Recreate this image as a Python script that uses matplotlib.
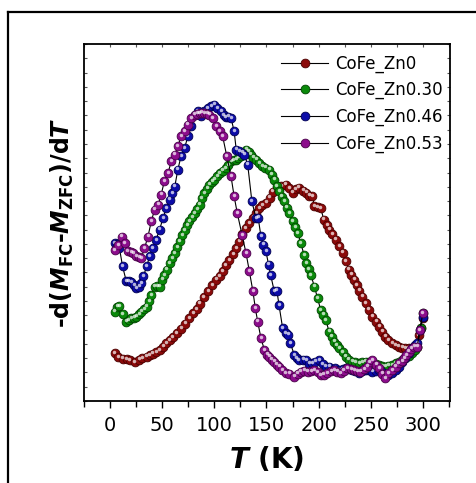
import matplotlib
matplotlib.use("Agg")
import matplotlib.pyplot as plt
import matplotlib.transforms as mtransforms
from matplotlib.lines import Line2D
from matplotlib.ticker import MultipleLocator, NullFormatter

plt.rcParams["font.family"] = "DejaVu Sans"
plt.rcParams["mathtext.fontset"] = "custom"
plt.rcParams["mathtext.rm"] = "DejaVu Sans:bold"
plt.rcParams["mathtext.it"] = "DejaVu Sans:bold:italic"
plt.rcParams["mathtext.bf"] = "DejaVu Sans:bold"

# ---- data: temperature (K) and -d(M_FC - M_ZFC)/dT (arb. units) ----
t_zn0 = [4.5, 7.7, 12, 16, 19, 23.6, 28, 31, 35, 38, 41, 44, 47.5, 51, 54, 57, 60, 64, 68, 72,
         76, 80, 83, 86, 90, 94, 98, 102, 105, 108, 111, 114.5, 118, 121, 124, 127, 130, 133.6,
         137, 140, 143, 146, 149.5, 153, 156, 160, 164, 168.6, 172, 175, 178, 181, 185, 188,
         191, 194, 196, 199, 202, 205, 208, 210, 213, 216.5, 220, 223, 226, 229, 231.5, 234,
         236.5, 239, 242, 245, 248, 251.5, 255, 258, 261, 264, 267, 270.7, 274, 277, 280, 283,
         286.5, 290, 292.5, 294.6, 296, 298, 300]
m_zn0 = [13.4, 12.2, 11.8, 11.7, 11.5, 10.8, 11.6, 12.0, 12.4, 12.9, 13.3, 13.6, 14.2, 15.2, 16.2,
         17.0, 17.9, 19.0, 20.3, 21.6, 23.2, 24.6, 25.8, 27.3, 29.0, 30.8, 32.4, 34.0, 35.0, 36.3,
         38.0, 39.5, 41.2, 42.8, 44.6, 46.8, 48.4, 49.8, 51.3, 52.6, 54.0, 54.8, 55.5, 57.0, 58.6,
         59.6, 60.2, 60.6, 59.6, 58.3, 59.3, 59.7, 58.9, 58.3, 57.5, 57.3, 54.6, 54.3, 54.0, 50.8,
         49.3, 48.0, 46.8, 45.2, 43.4, 41.5, 39.2, 36.8, 35.4, 34.0, 32.4, 30.9, 29.2, 27.4, 25.6,
         23.6, 22.2, 20.8, 19.4, 18.0, 17.1, 16.2, 15.7, 15.2, 14.9, 14.8, 14.8, 14.8, 15.0, 15.2,
         18.5, 20.5, 23.2]

t_zn30 = [4.5, 7, 9, 12, 15.6, 18, 20, 23, 25, 28, 30, 33, 35, 37.5, 39.5, 42.7, 45, 47.5, 50, 52,
          54.5, 57, 59.5, 62, 64.5, 66.6, 69, 71.4, 74, 76, 78.5, 81, 83.5, 85.8, 88, 90.5, 93,
          95.3, 98, 100, 102.5, 105, 108, 111, 113.5, 116, 118.5, 121, 123, 125.6, 128, 130.4,
          133, 135, 137.5, 140, 143, 146, 149, 152.7, 155, 157.5, 160, 162, 164.5, 167, 169.5, 172,
          175, 177.5, 180, 183, 186, 188, 190.5, 192.6, 196, 199, 202, 204.5, 207, 210, 212.5, 215,
          217.5, 219.7, 223, 226, 229, 232, 235, 239, 242, 245, 248, 251.5, 255, 258, 261, 264, 267,
          270.7, 274, 277, 280, 283, 286.5, 290, 292.5, 294.6, 297.8, 300]
m_zn30 = [25.0, 26.4, 26.6, 24.4, 22.2, 22.6, 23.2, 23.3, 23.6, 24.3, 25.0, 25.8, 26.4, 28.0, 29.7,
          32.0, 32.1, 32.0, 34.0, 35.3, 36.8, 38.6, 40.0, 41.4, 43.0, 44.7, 46.4, 47.9, 49.3, 50.3,
          51.5, 52.6, 53.8, 55.0, 56.8, 58.2, 59.5, 60.6, 61.4, 62.0, 62.9, 63.8, 64.5, 65.2, 66.0,
          67.1, 67.4, 67.6, 68.1, 68.7, 69.6, 70.4, 69.8, 69.0, 68.2, 67.6, 66.6, 65.7, 65.3, 64.8,
          63.4, 62.0, 60.2, 58.7, 57.2, 55.9, 54.2, 52.6, 50.3, 48.7, 47.0, 44.2, 40.9, 38.6, 37.0,
          35.3, 32.0, 28.8, 25.5, 24.2, 22.7, 19.4, 18.0, 16.6, 15.6, 14.8, 13.6, 12.4, 11.6, 11.0,
          10.8, 10.6, 10.9, 11.0, 10.8, 10.6, 10.3, 10.1, 9.8, 9.6, 9.9, 10.1, 10.6, 11.0, 11.5,
          12.0, 12.7, 13.4, 14.3, 15.2, 20.4, 24.6]

t_zn46 = [4.5, 7, 9, 12, 15.6, 18, 20, 23, 25, 28, 30, 32, 35, 38, 41, 44, 47.5, 50.7, 54, 57,
          59.5, 62, 65, 68, 71.4, 74.6, 78, 81, 84, 87, 90.5, 93.7, 97, 100, 103, 106.5, 109, 111,
          113.5, 116, 119, 121, 124, 126.5, 128.8, 132, 136, 140, 142, 144.7, 147, 149.5, 152,
          154, 157.5, 160, 162, 165.5, 168.6, 171, 173, 176.6, 179, 181, 185, 188, 191, 194, 197,
          200.5, 204, 207, 210, 213, 216, 219.7, 223, 226, 229, 232, 235, 239, 242, 245, 248,
          251.5, 255, 258, 261, 264, 267, 270.7, 274, 277, 280, 283, 286.5, 290, 292.5, 294.6,
          297, 300]
m_zn46 = [44.2, 44.0, 42.8, 37.7, 33.5, 33.6, 33.2, 32.4, 31.6, 32.0, 33.0, 34.9, 37.7, 40.5, 42.8,
          45.1, 48.0, 51.2, 54.0, 56.4, 58.2, 60.0, 64.8, 68.5, 70.8, 74.1, 76.9, 80.2, 81.1, 79.7,
          81.1, 82.0, 82.5, 83.0, 82.0, 81.1, 80.0, 79.5, 79.6, 79.3, 75.5, 70.4, 69.9, 69.6, 69.0,
          66.2, 55.9, 51.2, 51.4, 46.1, 43.8, 41.9, 38.2, 35.3, 30.7, 30.9, 26.9, 20.4, 19.0, 18.6,
          16.2, 12.9, 12.0, 11.5, 11.6, 11.5, 10.4, 10.6, 11.0, 11.5, 10.3, 9.6, 9.6, 8.7, 9.2, 8.7,
          8.9, 9.2, 9.0, 8.7, 8.3, 7.8, 8.4, 8.7, 8.6, 8.2, 8.5, 8.7, 8.0, 7.3, 7.4, 7.8, 8.8, 9.6,
          10.8, 12.0, 13.4, 14.8, 15.6, 16.2, 19.9, 23.6]

t_zn53 = [4.5, 7.7, 11, 14, 17, 20, 22, 25, 28, 30, 33, 36.3, 39.5, 42.7, 46, 49, 52, 55.5, 58.7,
          62, 65, 68, 71.4, 74.6, 78, 81, 83.5, 85.8, 88, 90.5, 93, 95.3, 98.5, 101.7, 105, 108,
          112, 116, 119, 122, 126.6, 130.4, 133.6, 137, 139.3, 141.6, 144.7, 148, 150.5, 152.7,
          155, 157.5, 160, 162, 165, 168.6, 172, 176.6, 180, 183, 186, 189.4, 193, 196, 199, 202,
          205, 208.5, 212, 215, 218, 221, 224, 227.6, 231, 234, 237, 240, 243.5, 246.8, 249, 251.5,
          255, 258, 261, 264, 267, 270.7, 274, 277, 280, 282, 284, 286.6, 289, 291.4, 294.6, 297,
          300]
m_zn53 = [42.3, 43.7, 46.0, 44.2, 41.9, 41.6, 41.4, 40.5, 40.2, 40.0, 42.8, 46.0, 50.3, 53.6, 55.0,
          57.8, 61.5, 63.8, 67.1, 69.0, 71.3, 74.1, 75.5, 77.4, 79.3, 80.2, 80.5, 80.7, 80.8, 80.7,
          80.5, 80.2, 79.3, 76.9, 75.5, 74.1, 68.5, 62.9, 57.3, 52.6, 46.5, 41.4, 36.3, 30.7, 26.0,
          22.2, 17.6, 14.3, 13.0, 12.4, 11.6, 11.0, 10.2, 9.6, 8.7, 7.8, 7.6, 6.8, 7.6, 8.2, 8.5,
          8.2, 8.4, 8.7, 8.0, 7.3, 7.4, 7.8, 8.3, 8.7, 8.2, 7.8, 8.5, 9.2, 8.9, 8.7, 8.4, 8.2, 8.9,
          9.6, 10.8, 11.5, 10.2, 9.2, 7.6, 6.4, 7.8, 8.7, 9.6, 10.6, 11.2, 12.0, 12.8, 13.8, 14.6,
          15.2, 15.2, 19.9, 24.6]

series = [
    ("CoFe_Zn0", t_zn0, m_zn0, "#8b0a0a", "#4a0000"),
    ("CoFe_Zn0.30", t_zn30, m_zn30, "#0a8a0a", "#004400"),
    ("CoFe_Zn0.46", t_zn46, m_zn46, "#0c0ca8", "#000050"),
    ("CoFe_Zn0.53", t_zn53, m_zn53, "#8c0c8c", "#480048"),
]

fig = plt.figure(figsize=(4.77, 4.83), dpi=100)
ax = fig.add_axes([84 / 477, 1 - 401 / 483, 366 / 477, 357 / 483])

# outer frame (left and top edges)
fig.add_artist(Line2D([8 / 477, 8 / 477], [0, 1 - 12 / 483], transform=fig.transFigure,
                      color="black", lw=1.6))
fig.add_artist(Line2D([8 / 477, 1], [1 - 12 / 483, 1 - 12 / 483], transform=fig.transFigure,
                      color="black", lw=1.6))

ms = 6.3
shine = mtransforms.ScaledTranslation(-0.3 / 72, 1.0 / 72, fig.dpi_scale_trans)
handles = []
for label, t, m, fc, ec in series:
    ln, = ax.plot(t, m, "-", color="black", lw=0.8, marker="o", ms=ms, mfc=fc, mec=ec,
                  mew=0.6, label=label)
    ax.plot(t, m, "o", ls="none", ms=ms * 0.4, mfc="white", mec="none", alpha=0.7,
            transform=ax.transData + shine)
    handles.append(ln)

ax.set_xlim(-25, 326)
ax.set_ylim(0, 100)

ax.xaxis.set_major_locator(MultipleLocator(50))
ax.xaxis.set_minor_locator(MultipleLocator(25))
ax.yaxis.set_major_locator(MultipleLocator(4))
ax.yaxis.set_major_formatter(NullFormatter())
ax.tick_params(axis="x", which="major", direction="out", length=5, width=1, labelsize=14,
               pad=6, top=False)
ax.tick_params(axis="x", which="minor", direction="out", length=4, width=1, top=False)
ax.tick_params(axis="y", which="major", direction="in", length=2, width=0.8, color="#555555",
               left=True, right=True)

# small inward ticks along the top edge
top = ax.secondary_xaxis("top")
top.xaxis.set_major_locator(MultipleLocator(25))
top.tick_params(direction="in", length=2, width=0.8, color="#555555", labeltop=False)
top.xaxis.set_major_formatter(NullFormatter())

for sp in ax.spines.values():
    sp.set_linewidth(1.3)
top.spines["top"].set_visible(False)

ax.set_xlabel(r"$T$ (K)", fontsize=20, fontweight="bold", labelpad=7)
ax.set_ylabel(r"-d($M_{\mathrm{FC}}$-$M_{\mathrm{ZFC}}$)/d$T$",
              fontsize=17, fontweight="bold", labelpad=2)

ax.legend(handles=handles, loc="upper right", bbox_to_anchor=(1.013, 1.003), frameon=False,
          fontsize=12, handlelength=2.8, handletextpad=0.45, labelspacing=0.5, numpoints=1,
          borderaxespad=0.3)

fig.savefig("out.png", dpi=100)
